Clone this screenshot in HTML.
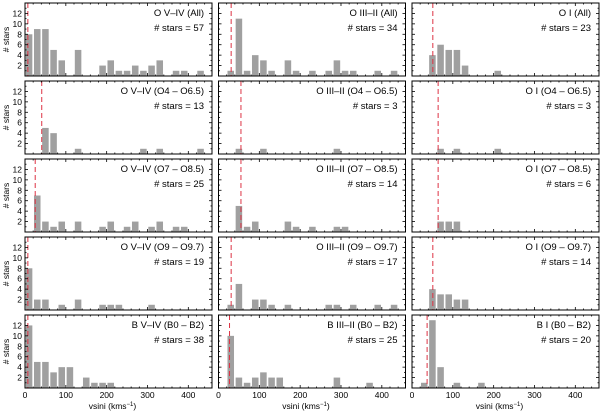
<!DOCTYPE html>
<html><head><meta charset="utf-8"><style>
html,body{margin:0;padding:0;background:#fff;}
svg{display:block;font-family:"Liberation Sans",sans-serif;}
</style></head><body>
<svg id="chart" width="600" height="412" viewBox="0 0 600 412" xmlns="http://www.w3.org/2000/svg"></svg>
<script>
const binStarts = [0,20,40,60,80,100,120,140,160,180,200,220,240,260,280,300,320,340,360,380,400,420,440];
const titles = [
 ["O V\u2013IV (All)","O III\u2013II (All)","O I (All)"],
 ["O V\u2013IV (O4 \u2013 O6.5)","O III\u2013II (O4 \u2013 O6.5)","O I (O4 \u2013 O6.5)"],
 ["O V\u2013IV (O7 \u2013 O8.5)","O III\u2013II (O7 \u2013 O8.5)","O I (O7 \u2013 O8.5)"],
 ["O V\u2013IV (O9 \u2013 O9.7)","O III\u2013II (O9 \u2013 O9.7)","O I (O9 \u2013 O9.7)"],
 ["B V\u2013IV (B0 \u2013 B2)","B III\u2013II (B0 \u2013 B2)","B I (B0 \u2013 B2)"]
];
const starCounts = [[57,34,23],[13,3,3],[25,14,6],[19,17,14],[38,25,20]];
const medians = [[7,31,51],[41,55,64],[25,55,64],[7,31,51],[7,27,37]];
const counts = [
 [[8,9,9,5,3,0,5,0,0,2,3,1,1,2,1,2,3,0,1,1,0,1,0],
  [0,1,11,1,4,3,1,0,3,1,0,1,0,1,3,1,1,0,0,1,0,1,0],
  [0,0,4,6,5,5,2,0,0,0,1,0,0,0,0,0,0,0,0,0,0,0,0]],
 [[0,0,5,4,0,0,1,0,0,0,0,0,0,0,1,0,1,0,0,0,0,1,0],
  [0,0,1,0,0,1,0,0,0,0,0,0,0,0,1,0,0,0,0,0,0,0,0],
  [0,0,0,1,0,1,0,0,0,0,1,0,0,0,0,0,0,0,0,0,0,0,0]],
 [[0,7,2,1,2,0,2,0,0,1,2,0,1,2,0,1,2,0,1,1,0,0,0],
  [0,0,5,1,2,0,0,0,2,1,0,1,0,0,1,1,0,0,0,0,0,0,0],
  [0,0,0,2,2,2,0,0,0,0,0,0,0,0,0,0,0,0,0,0,0,0,0]],
 [[8,2,2,0,1,0,2,0,0,1,1,1,0,0,0,1,0,0,0,0,0,0,0],
  [0,1,5,0,2,2,1,0,1,0,0,0,0,1,1,0,1,0,0,1,0,1,0],
  [0,0,4,3,3,2,2,0,0,0,0,0,0,0,0,0,0,0,0,0,0,0,0]],
 [[12,5,5,3,4,4,0,2,1,1,1,0,0,0,0,0,0,0,0,0,0,0,0],
  [0,10,2,1,2,3,2,2,0,0,0,0,0,0,2,0,0,0,1,0,0,0,0],
  [0,1,13,4,0,1,0,0,1,0,0,0,0,0,0,0,0,0,0,0,0,0,0]]
];
const xTicks = [0,100,200,300,400];
const yTicks = [2,4,6,8,10,12];

const NS="http://www.w3.org/2000/svg";
const svg=document.getElementById('chart');
function mk(tag,attrs,parent){const e=document.createElementNS(NS,tag);for(const k in attrs)e.setAttribute(k,attrs[k]);(parent||svg).appendChild(e);return e;}
const colX=[25,218.5,412], rowY=[3,81,159,237,315], PW=187, PH=73;
const XMAX=458, YMAX=14;
for(let r=0;r<5;r++){for(let c=0;c<3;c++){
  const x0=colX[c], y0=rowY[r];
  const sx=v=>x0+v/XMAX*PW, sy=v=>y0+PH-v/YMAX*PH;
  const g=mk('g',{});
  
  
  counts[r][c].forEach((n,i)=>{ if(!n) return;
    const b=mk('rect',{x:sx(binStarts[i]+2),y:sy(n),width:sx(binStarts[i]+18)-sx(binStarts[i]+2),height:sy(0)-sy(n),fill:'#a0a0a0'},g);
    
    
  });
  const m=mk('line',{x1:sx(medians[r][c]),x2:sx(medians[r][c]),y1:y0,y2:y0+PH,stroke:'#dd3344','stroke-width':1,'stroke-dasharray':'5,3'},g);
  
  
  // ticks
  for(let v=0;v<=XMAX;v+=20){const L=(v%100===0)?3:1.5;
    mk('line',{x1:sx(v),x2:sx(v),y1:y0+PH,y2:y0+PH-L,stroke:'#000','stroke-width':0.8},g);
    mk('line',{x1:sx(v),x2:sx(v),y1:y0,y2:y0+L,stroke:'#000','stroke-width':0.8},g);}
  for(let v=1;v<YMAX;v++){const L=(v%2===0)?3:1.5;
    mk('line',{x1:x0,x2:x0+L,y1:sy(v),y2:sy(v),stroke:'#000','stroke-width':0.8},g);
    mk('line',{x1:x0+PW,x2:x0+PW-L,y1:sy(v),y2:sy(v),stroke:'#000','stroke-width':0.8},g);}
  const fr=mk('rect',{x:x0,y:y0,width:PW,height:PH,fill:'none',stroke:'#000','stroke-width':1},g);
  
  
  const t=mk('text',{x:x0+PW-8,y:y0+13,'font-size':9.5,'text-anchor':'end'},g);t.textContent=titles[r][c];
  
  
  const s=mk('text',{x:x0+PW-8,y:y0+28,'font-size':9.5,'text-anchor':'end'},g);s.textContent='# stars = '+starCounts[r][c];
  
  
  if(c===0){
    yTicks.forEach(v=>{const tl=mk('text',{x:x0-3,y:sy(v)+3,'font-size':8.5,'text-anchor':'end'},g);tl.textContent=v;
      
      });
    const yl=mk('text',{x:0,y:0,'font-size':8.5,'text-anchor':'middle',transform:'translate(9,'+(y0+PH/2)+') rotate(-90)'},g);yl.textContent='# stars';
    
    
  }
  if(r===4){
    xTicks.forEach(v=>{const tl=mk('text',{x:sx(v),y:398,'font-size':8.5,'text-anchor':'middle'},g);tl.textContent=v;
      
      });
    const xl=mk('text',{x:x0+PW/2-6,y:409,'font-size':8.5,'text-anchor':'middle'},g);
    xl.innerHTML='vsini (kms<tspan dy="-3" font-size="6">\u22121</tspan><tspan dy="3">)</tspan>';
    
    
  }
}}
</script>
</body></html>
